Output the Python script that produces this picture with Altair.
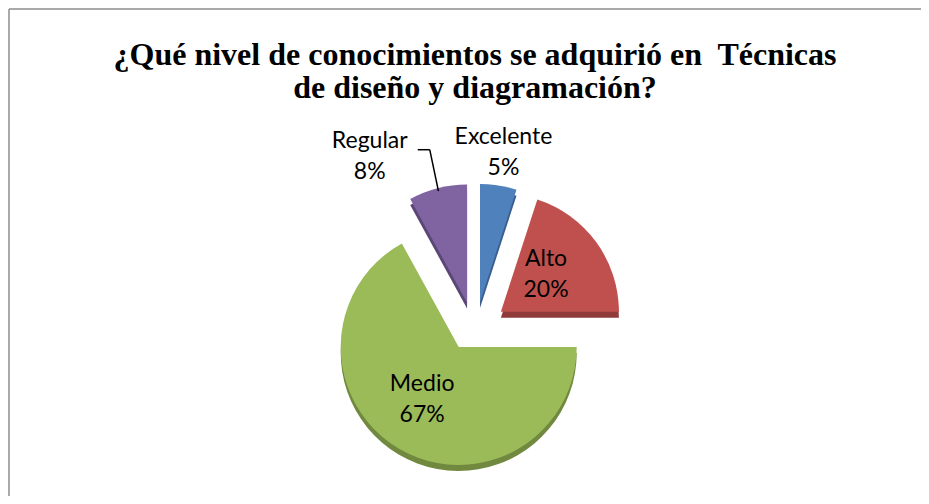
import altair as alt
import pandas as pd

# ---- data ----
categorias = ["Excelente", "Alto", "Medio", "Regular"]
valores = [5, 20, 67, 8]
titulo = ["¿Qué nivel de conocimientos se adquirió en\u00a0 Técnicas",
          "de diseño y diagramación?"]

# ---- style ----
colores = ["#4F81BD", "#C0504D", "#9BBB59", "#8064A2"]
colores_oscuros = ["#3A5F8E", "#8E3B39", "#71893F", "#5B4776"]

W, H = 913, 488          # whole drawing area (autosize none, padding 0)
CX, CY = 467, 318        # pie centre
R = 118                  # slice radius
EXPLODE = 32             # explosion distance
TILT = 0.76              # vertical squash of the explosion (3-D tilt)
DEPTH = 6                # 3-D depth of the slices
LR_IN = 62               # inside label distance from slice vertex
LR_OUT = 182             # outside label distance from pie centre
LABEL_FONT = "Lato"
LABEL_SIZE = 23

df = pd.DataFrame({"categoria": categorias, "valor": valores,
                   "orden": list(range(len(categorias)))})

base = (
    alt.Chart(df)
    .transform_window(cum="sum(valor)", sort=[alt.SortField("orden")])
    .transform_joinaggregate(total="sum(valor)")
    .transform_calculate(
        t0="2*PI*(datum.cum - datum.valor)/datum.total",
        t1="2*PI*datum.cum/datum.total",
    )
    .transform_calculate(mid="(datum.t0 + datum.t1)/2")
    .transform_calculate(
        vx=f"{CX} + {EXPLODE}*sin(datum.mid)",
        vy=f"{CY} - {EXPLODE}*{TILT}*cos(datum.mid)",
        pct="format(datum.valor/datum.total, '.0%')",
    )
    .transform_calculate(vyd=f"datum.vy + {DEPTH}")
)

theta = alt.Theta("t0:Q", scale=None, stack=None)

depth = base.mark_arc(outerRadius=R).encode(
    x=alt.X("vx:Q", scale=None, axis=None),
    y=alt.Y("vyd:Q", scale=None, axis=None),
    theta=theta, theta2="t1:Q",
    color=alt.Color("categoria:N",
                    scale=alt.Scale(domain=categorias, range=colores_oscuros),
                    legend=None),
)

slices = base.mark_arc(outerRadius=R).encode(
    x=alt.X("vx:Q", scale=None, axis=None),
    y=alt.Y("vy:Q", scale=None, axis=None),
    theta=theta, theta2="t1:Q",
    color=alt.Color("categoria:N",
                    scale=alt.Scale(domain=categorias, range=colores),
                    legend=None),
)

# inside labels (big slices)
inside = base.transform_filter("datum.valor >= 10").transform_calculate(
    lx=f"datum.vx + {LR_IN}*sin(datum.mid) - 5",
    ly=f"datum.vy - {LR_IN}*cos(datum.mid)",
)
in_name = inside.mark_text(font=LABEL_FONT, fontSize=LABEL_SIZE, color="black",
                           dy=-16).encode(
    x=alt.X("lx:Q", scale=None), y=alt.Y("ly:Q", scale=None), text="categoria:N")
in_pct = inside.mark_text(font=LABEL_FONT, fontSize=LABEL_SIZE, color="black",
                          dy=15).encode(
    x=alt.X("lx:Q", scale=None), y=alt.Y("ly:Q", scale=None), text="pct:N")

# outside labels (small slices)
outside = base.transform_filter("datum.valor < 10").transform_calculate(
    ex=f"{CX} + {LR_OUT}*sin(datum.mid)",
    ey=f"{CY} - {LR_OUT}*cos(datum.mid)",
).transform_calculate(
    tx="sin(datum.mid) < 0 ? datum.ex - 60 : datum.ex",
    ty="datum.ey + 6",
    px=f"datum.vx + ({R} - 3)*sin(datum.mid)",
    py=f"datum.vy - ({R} - 3)*cos(datum.mid)",
    ex0="datum.ex - 12",
)
out_name = outside.mark_text(font=LABEL_FONT, fontSize=LABEL_SIZE, color="black",
                             dy=-15).encode(
    x=alt.X("tx:Q", scale=None), y=alt.Y("ty:Q", scale=None), text="categoria:N")
out_pct = outside.mark_text(font=LABEL_FONT, fontSize=LABEL_SIZE, color="black",
                            dy=16).encode(
    x=alt.X("tx:Q", scale=None), y=alt.Y("ty:Q", scale=None), text="pct:N")

leaders = outside.transform_filter("sin(datum.mid) < 0")
leader1 = leaders.mark_rule(color="black", strokeWidth=1.5).encode(
    x=alt.X("ex0:Q", scale=None), x2="ex:Q",
    y=alt.Y("ey:Q", scale=None), y2="ey:Q")
leader2 = leaders.mark_rule(color="black", strokeWidth=1.5).encode(
    x=alt.X("ex:Q", scale=None), x2="px:Q",
    y=alt.Y("ey:Q", scale=None), y2="py:Q")

# title
one = alt.Data(values=[{}])
title1 = alt.Chart(one).mark_text(
    font="Liberation Serif", fontSize=32, fontWeight="bold", color="black",
    baseline="alphabetic").encode(
    x=alt.value(CX), y=alt.value(57), text=alt.value(titulo[0]))
title2 = alt.Chart(one).mark_text(
    font="Liberation Serif", fontSize=32, fontWeight="bold", color="black",
    baseline="alphabetic").encode(
    x=alt.value(CX), y=alt.value(90), text=alt.value(titulo[1]))

# outer frame (top and left edges; the others run off the page)
frame_top = alt.Chart(one).mark_rule(color="#8c8c8c", strokeWidth=1.5).encode(
    x=alt.value(1), x2=alt.value(W), y=alt.value(1))
frame_left = alt.Chart(one).mark_rule(color="#8c8c8c", strokeWidth=1.5).encode(
    x=alt.value(1), y=alt.value(1), y2=alt.value(H))

chart = (
    alt.layer(depth, slices, leader1, leader2, in_name, in_pct,
              out_name, out_pct, title1, title2, frame_top, frame_left)
    .resolve_scale(color="independent")
    .properties(width=W, height=H, padding=0,
                autosize=alt.AutoSizeParams(type="none"))
    .configure_view(stroke=None)
)

chart.save("out.html", embed_options={"renderer": "svg", "actions": False})
